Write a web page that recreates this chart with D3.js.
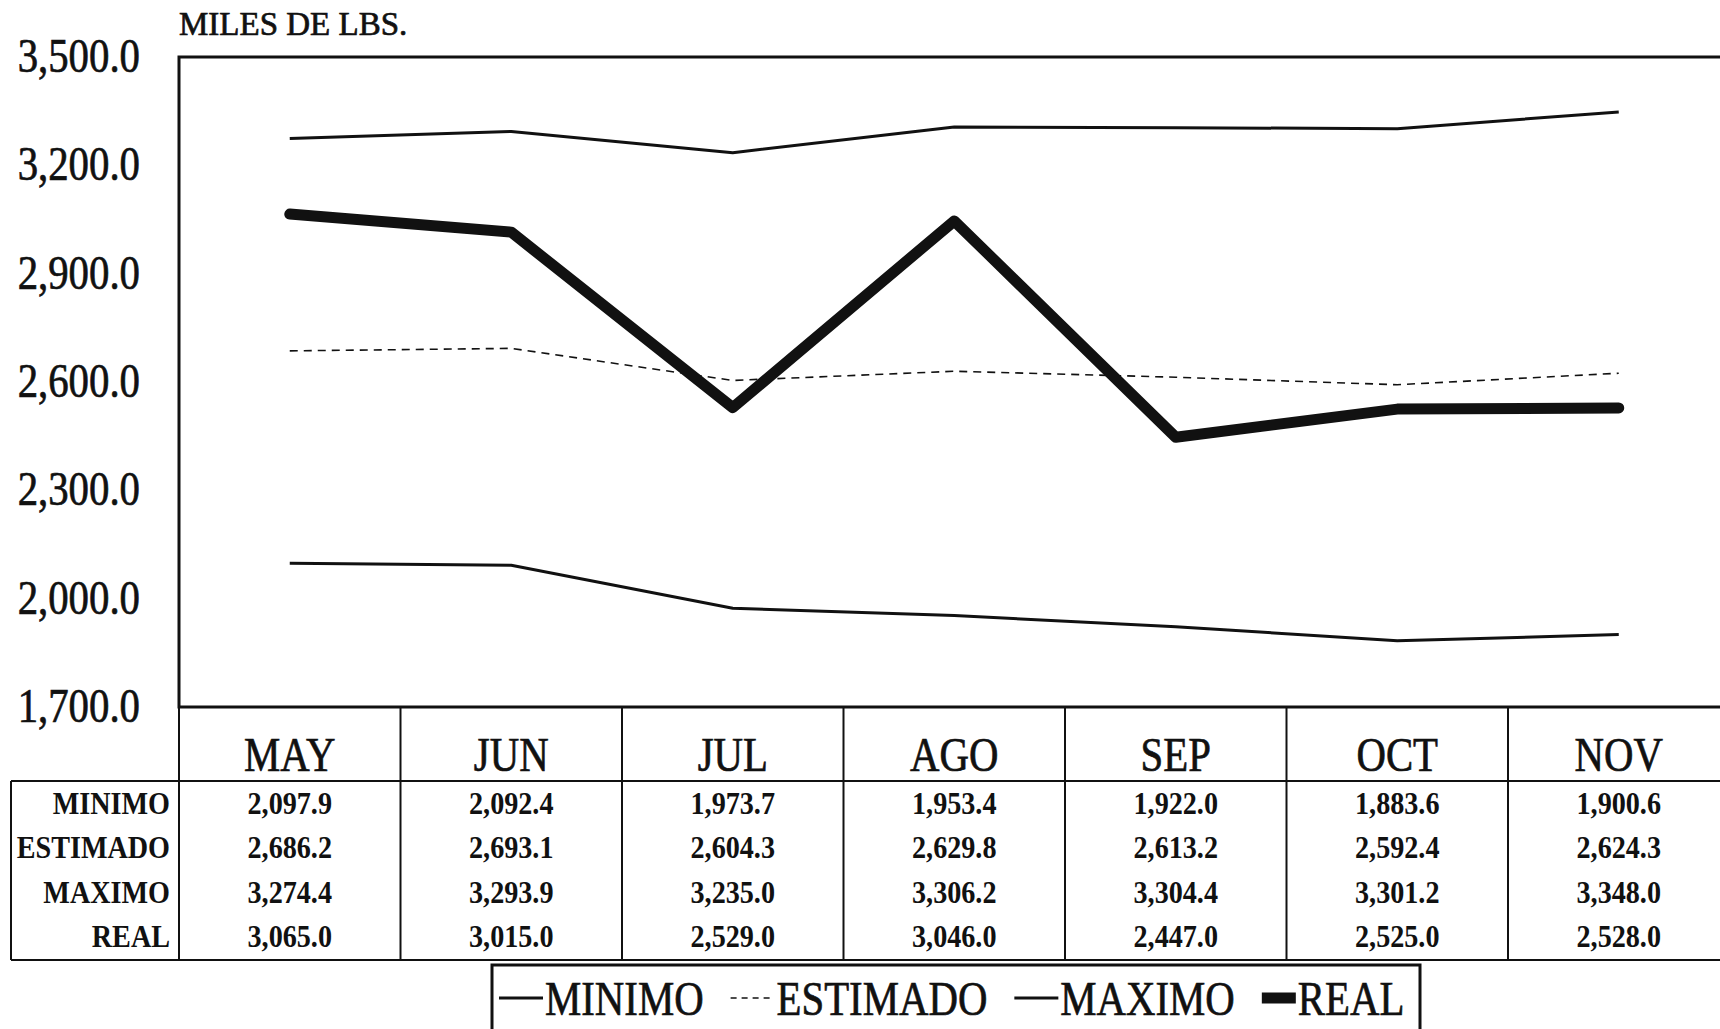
<!DOCTYPE html>
<html>
<head>
<meta charset="utf-8">
<script src="https://cdn.jsdelivr.net/npm/d3@7"></script>
<style>
  html, body { margin: 0; padding: 0; background: #fff; overflow: hidden; }
  svg { display: block; font-family: "Liberation Serif", "Times New Roman", serif; }
</style>
</head>
<body>
<svg id="chart"></svg>
<script>
const months = ["MAY", "JUN", "JUL", "AGO", "SEP", "OCT", "NOV"];
const minimo = [2097.9, 2092.4, 1973.7, 1953.4, 1922.0, 1883.6, 1900.6];
const estimado = [2686.2, 2693.1, 2604.3, 2629.8, 2613.2, 2592.4, 2624.3];
const maximo = [3274.4, 3293.9, 3235.0, 3306.2, 3304.4, 3301.2, 3348.0];
const real = [3065.0, 3015.0, 2529.0, 3046.0, 2447.0, 2525.0, 2528.0];
const seriesNames = ["MINIMO", "ESTIMADO", "MAXIMO", "REAL"];
const yTicks = [1700, 2000, 2300, 2600, 2900, 3200, 3500];
const title = "MILES DE LBS.";

const seriesValues = { MINIMO: minimo, ESTIMADO: estimado, MAXIMO: maximo, REAL: real };

// line styles per series
const styles = {
    MINIMO:   { width: 3,   dash: null },
    ESTIMADO: { width: 1.6, dash: "8,6" },
    MAXIMO:   { width: 3,   dash: null },
    REAL:     { width: 11,  dash: null }
};

const width = 1720, height = 1029;
const ink = "#111";
const squeeze = 0.85;       // scanned type looks condensed
const fmt = d3.format(",.1f");

const plot = { left: 179, top: 57, bottom: 707, right: 1760 };
const table = { header: 781, bottom: 960, labelLeft: 11, rowStart: 814, rowStep: 44.3 };

const svg = d3.select("#chart")
    .attr("width", width)
    .attr("height", height)
    .attr("viewBox", [0, 0, width, height]);

// scales
const x = d3.scaleBand()
    .domain(months)
    .range([plot.left, plot.left + months.length * 221.5]);
const y = d3.scaleLinear()
    .domain([1700, 3500])
    .range([plot.bottom, plot.top]);
const cx = m => x(m) + x.bandwidth() / 2;

// heavier strokes on big type, like the photocopy
const heavy = sel => sel.attr("stroke", ink).attr("stroke-width", 0.7);

// title
svg.append("text")
    .attr("x", plot.left)
    .attr("y", 35)
    .attr("font-size", 33)
    .attr("fill", ink)
    .call(heavy)
    .text(title);

// y axis
svg.append("g")
    .attr("transform", `translate(${plot.left},0)`)
    .call(d3.axisLeft(y).tickValues(yTicks).tickFormat(fmt).tickSize(0).tickPadding(0))
    .call(g => g.select(".domain").remove())
    .call(g => g.selectAll("text")
        .attr("x", 0)
        .attr("dy", "0.3em")
        .attr("font-family", "Liberation Serif, Times New Roman, serif")
        .attr("font-size", 48)
        .attr("fill", ink)
        .call(heavy)
        .attr("transform", `translate(-39,0) scale(${squeeze},1)`));

// plot frame
svg.append("rect")
    .attr("x", plot.left)
    .attr("y", plot.top)
    .attr("width", plot.right - plot.left)
    .attr("height", plot.bottom - plot.top)
    .attr("fill", "none")
    .attr("stroke", ink)
    .attr("stroke-width", 3);

// series lines
const line = d3.line()
    .x((d, i) => cx(months[i]))
    .y(d => y(d));

svg.append("g")
    .selectAll("path")
    .data(seriesNames)
    .join("path")
    .attr("d", name => line(seriesValues[name]))
    .attr("fill", "none")
    .attr("stroke", ink)
    .attr("stroke-width", name => styles[name].width)
    .attr("stroke-dasharray", name => styles[name].dash)
    .attr("stroke-linejoin", "round")
    .attr("stroke-linecap", name => name === "REAL" ? "round" : "butt");

// data table
const grid = svg.append("g")
    .attr("stroke", ink)
    .attr("stroke-width", 2);

grid.selectAll("line.col")
    .data(months.concat(["_end"]))
    .join("line")
    .attr("class", "col")
    .attr("x1", (d, i) => plot.left + i * x.bandwidth())
    .attr("x2", (d, i) => plot.left + i * x.bandwidth())
    .attr("y1", plot.bottom)
    .attr("y2", table.bottom);

grid.append("line")
    .attr("x1", table.labelLeft).attr("x2", plot.right)
    .attr("y1", table.header).attr("y2", table.header);
grid.append("line")
    .attr("x1", table.labelLeft).attr("x2", plot.right)
    .attr("y1", table.bottom).attr("y2", table.bottom);
grid.append("line")
    .attr("x1", table.labelLeft).attr("x2", table.labelLeft)
    .attr("y1", table.header).attr("y2", table.bottom);

// month headers
svg.append("g")
    .selectAll("text")
    .data(months)
    .join("text")
    .attr("transform", m => `translate(${cx(m)},771) scale(${squeeze},1)`)
    .attr("text-anchor", "middle")
    .attr("font-size", 48)
    .attr("fill", ink)
    .call(heavy)
    .text(m => m);

// row labels and values
const rows = svg.append("g")
    .selectAll("g")
    .data(seriesNames)
    .join("g")
    .attr("transform", (name, i) => `translate(0,${table.rowStart + i * table.rowStep})`);

rows.append("text")
    .attr("transform", `translate(170,0) scale(0.88,1)`)
    .attr("text-anchor", "end")
    .attr("font-size", 32)
    .attr("font-weight", "bold")
    .attr("fill", ink)
    .text(name => name);

rows.selectAll("text.val")
    .data(name => seriesValues[name])
    .join("text")
    .attr("class", "val")
    .attr("transform", (d, i) => `translate(${cx(months[i])},0) scale(0.88,1)`)
    .attr("text-anchor", "middle")
    .attr("font-size", 32)
    .attr("font-weight", "bold")
    .attr("fill", ink)
    .text(d => fmt(d));

// legend
const legend = svg.append("g");
legend.append("rect")
    .attr("x", 492)
    .attr("y", 965)
    .attr("width", 928)
    .attr("height", 120)
    .attr("fill", "#fff")
    .attr("stroke", ink)
    .attr("stroke-width", 3);

let lx = 499;
seriesNames.forEach(name => {
    const sw = name === "REAL" ? 34 : 44;
    legend.append("line")
        .attr("x1", lx).attr("x2", lx + sw)
        .attr("y1", 998).attr("y2", 998)
        .attr("stroke", ink)
        .attr("stroke-width", name === "REAL" ? 11 : Math.max(styles[name].width, 1.6))
        .attr("stroke-dasharray", styles[name].dash ? "6,5" : null);
    const t = legend.append("text")
        .attr("transform", `translate(${lx + sw + 2},1015) scale(${squeeze},1)`)
        .attr("font-size", 48)
        .attr("fill", ink)
        .call(heavy)
        .text(name);
    lx += sw + 2 + t.node().getComputedTextLength() * squeeze + 27;
});
</script>
</body>
</html>
